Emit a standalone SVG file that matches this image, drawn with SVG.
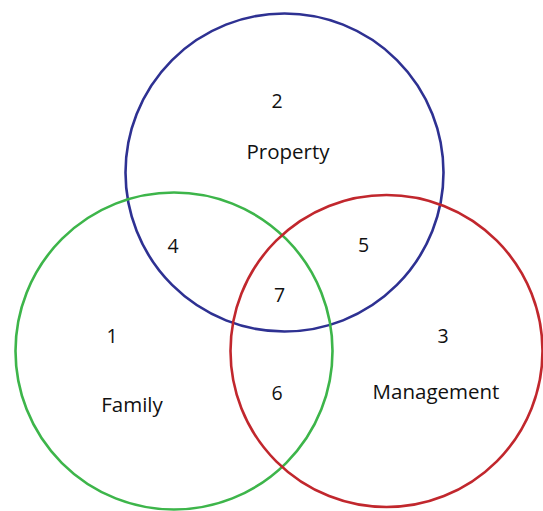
<svg xmlns="http://www.w3.org/2000/svg" width="543" height="511" viewBox="0 0 543 511">
<style>
.c{fill:none;stroke-width:2.6}
text{font-family:"Open Sans","Liberation Sans",Arial,sans-serif;font-size:19.5px;fill:#111;text-anchor:middle}
.w{font-size:20.5px}
</style>
<rect width="543" height="511" fill="#fff"/>
<g id="property"><circle class="c" cx="284.5" cy="172.5" r="159" stroke="#2E3192"/></g>
<g id="family"><circle class="c" cx="174" cy="351" r="158.5" stroke="#3DB54A"/></g>
<g id="management"><circle class="c" cx="386.5" cy="351" r="156" stroke="#C1272D"/></g>
<g id="labels">
<text x="277" y="108">2</text>
<text class="w" x="288" y="159">Property</text>
<text x="173" y="253">4</text>
<text x="363.5" y="252">5</text>
<text x="279.5" y="302">7</text>
<text x="112" y="343">1</text>
<text x="443" y="343">3</text>
<text class="w" x="132" y="412">Family</text>
<text x="277" y="400">6</text>
<text class="w" x="436" y="399">Management</text>
</g>
</svg>
